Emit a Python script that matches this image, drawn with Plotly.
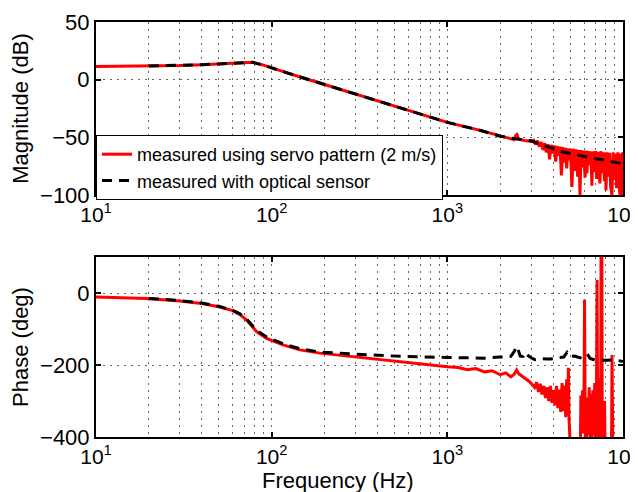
import plotly.graph_objects as go

# ---------------- data ----------------
series_names = ["measured using servo pattern (2 m/s)", "measured with optical sensor"]

mag_servo_freq = [10, 20, 30, 40, 50, 60, 70, 78, 88, 100, 120, 150, 196, 300, 400, 500, 700,
                  1000, 1500, 2000, 2400, 2460, 2490, 2540, 2700, 3000,
                  3100, 3180, 3260, 3340, 3420, 3500, 3580, 3660, 3740, 3820, 3900, 3980,
                  4060, 4140, 4220, 4300, 4380, 4460, 4540, 4620, 4700, 4780, 4860, 4940,
                  5020, 5120, 5220, 5320, 5420, 5520, 5620, 5690, 5770, 5870, 5970, 6080,
                  6180, 6230, 6330, 6450, 6560, 6650, 6750, 6860, 6970, 7080, 7190, 7300,
                  7390, 7480, 7600, 7720, 7840, 7950, 8000, 8120, 8250, 8380, 8500, 8650,
                  8780, 8900, 9050, 9200, 9350, 9500, 9600, 9720, 9850, 9950, 10000]
mag_servo_db = [11.5, 11.8, 12.3, 13, 13.6, 14.2, 14.7, 15, 13, 10, 6.3, 1.7, -3.8, -12.4, -18.3, -22.9, -29.7,
                -37, -43.5, -49, -52, -48, -47.5, -51.5, -52.5, -53.5,
                -52.5, -56, -53, -58, -54, -61, -55, -63, -56, -69, -56.5, -64,
                -57, -71, -57.5, -66, -58, -83, -58.5, -72, -59, -77, -59.5, -70,
                -60, -93, -60, -79, -60.5, -84, -61, -100, -61, -76, -61.5, -85,
                -61.5, -81, -62, -74, -62, -92, -62, -80, -62, -86, -62.5, -77,
                -90, -62, -81, -63, -88, -63, -96, -63, -84, -63.5, -92, -100,
                -63, -87, -64, -94, -63, -89, -100, -64, -97, -63, -100]

mag_optical_freq = [20, 30, 40, 50, 60, 70, 78, 88, 100, 120, 150, 196, 300, 400, 500, 700,
                    1000, 1500, 2000, 2500, 3000, 3500, 4000, 4500, 5000, 6000, 7000, 8000, 9000, 10000]
mag_optical_db = [11.8, 12.3, 13, 13.6, 14.2, 14.7, 15, 13, 10, 6.3, 1.7, -3.8, -12.4, -18.3, -22.9, -29.7,
                  -37, -43.5, -49, -51.5, -53, -57, -59.5, -62.5, -64, -66.5, -68.5, -70, -71.5, -73]

phase_servo_freq = [10, 15, 19.4, 30, 40, 50, 60, 66, 72, 82, 93.5, 116, 145, 188, 300, 545, 700,
                    1000, 1150, 1300, 1450, 1630, 1800, 2000, 2150, 2300, 2400, 2480, 2550, 2700, 2950, 3140,
                    3220, 3300, 3380, 3460, 3540, 3620, 3700, 3780, 3860, 3940, 4020, 4100,
                    4180, 4260, 4340, 4420, 4500, 4580, 4660, 4720, 4780, 4840, 4890, 4930,
                    4970, 5050, 5500, 5720, 5760, 5820, 5880, 5950, 6000, 6040, 6100, 6200,
                    6260, 6340, 6420, 6500, 6580, 6660, 6740, 6820, 6900, 6980, 7060, 7120,
                    7180, 7260, 7340, 7420, 7460, 7500, 7540, 7580, 7620, 7700, 7780, 7850,
                    7920, 8550, 8620, 8660, 8700, 8760, 10000]
phase_servo_deg = [-11, -13, -15, -22, -29, -38, -49, -60, -75, -107, -126, -144, -158, -167, -178, -191, -196,
                   -205, -207, -213, -210, -219, -216, -227, -222, -233, -226, -214, -224, -234, -247, -262,
                   -248, -275, -252, -282, -258, -292, -262, -300, -258, -305, -270, -312,
                   -258, -320, -268, -330, -250, -328, -258, -345, -240, -340, -208, -350,
                   -410, -460, -460, -420, -285, -380, -270, -390, -300, -19, -400, -410,
                   -290, -395, -262, -400, -280, -410, -270, -395, -250, -405, -300, 36,
                   -405, -260, -410, -236, -410, 120, -300, 120, -410, -330, -420, -300,
                   -460, -460, -380, -172, -400, -460, -460]

phase_optical_freq = [20, 30, 40, 50, 60, 66, 72, 82, 93.5, 116, 145, 188, 300, 545, 1000, 1300, 1630,
                      2000, 2300, 2420, 2470, 2530, 2600, 2700, 2770, 2850, 3000, 3150, 3400, 3700,
                      3900, 4200, 4600, 4800, 4950, 5300, 5700, 6000, 6250, 6500, 7000, 8000, 9000, 10000]
phase_optical_deg = [-15, -21, -28, -37, -48, -58, -72, -103, -122, -141, -155, -164, -170, -176, -179, -180, -181,
                     -178, -176, -160, -148, -158, -175, -176, -165, -172, -180, -185, -182, -183,
                     -183, -180, -178, -165, -176, -175, -180, -172, -169, -182, -187, -187, -186, -190]

x_tick_vals = [10, 100, 1000, 10000]
x_tick_text = ["10<sup>1</sup>", "10<sup>2</sup>", "10<sup>3</sup>", "10<sup>4</sup>"]
x_minor_vals = [d * 10 ** k for k in (1, 2, 3) for d in (2, 3, 4, 5, 6, 7, 8, 9)]
mag_tick_vals = [-100, -50, 0, 50]
phase_tick_vals = [-400, -200, 0]

# ---------------- figure ----------------
RED = "#ff0000"
FONT = "Liberation Sans, Arial, Helvetica, sans-serif"
GRIDC = "rgba(0,0,0,0.6)"

fig = go.Figure()
fig.add_trace(go.Scatter(x=mag_servo_freq, y=mag_servo_db, mode="lines", name=series_names[0],
                         line=dict(color=RED, width=3), xaxis="x", yaxis="y"))
fig.add_trace(go.Scatter(x=mag_optical_freq, y=mag_optical_db, mode="lines", name=series_names[1],
                         line=dict(color="black", width=3, dash="10px,7px"), xaxis="x", yaxis="y"))
fig.add_trace(go.Scatter(x=phase_servo_freq, y=phase_servo_deg, mode="lines", name=series_names[0],
                         line=dict(color=RED, width=3), xaxis="x2", yaxis="y2", showlegend=False))
fig.add_trace(go.Scatter(x=phase_optical_freq, y=phase_optical_deg, mode="lines", name=series_names[1],
                         line=dict(color="black", width=3, dash="10px,7px"), xaxis="x2", yaxis="y2",
                         showlegend=False))

grid = dict(showgrid=True, gridcolor=GRIDC, gridwidth=1, griddash="2px,5px")
frame = dict(showline=True, linecolor="black", linewidth=2, mirror="ticks", ticks="inside",
             ticklen=5, tickwidth=2, tickcolor="black", zeroline=False)

xcommon = dict(type="log", range=[1, 4], tickvals=x_tick_vals, ticktext=x_tick_text,
               tickfont=dict(family=FONT, size=21, color="black"), ticklabeloverflow="allow",
               automargin=False,
               minor=dict(tickvals=x_minor_vals, showgrid=True, gridcolor=GRIDC,
                          gridwidth=1, griddash="2px,5px", ticks=""),
               **grid, **frame)
ytickfont = dict(family=FONT, size=22, color="black")

# The page body has an 8px margin, so the figure is sized 8px smaller and margins shifted.
fig.update_layout(
    width=630, height=484,
    margin=dict(l=88, r=15, t=14, b=55, autoexpand=False),
    paper_bgcolor="white", plot_bgcolor="white",
    font=dict(family=FONT, color="black"),
    xaxis=dict(domain=[0, 1], anchor="y", **xcommon),
    xaxis2=dict(domain=[0, 1], anchor="y2", **xcommon),
    yaxis=dict(domain=[0.5831, 1.0], anchor="x", range=[-100, 50], tickvals=mag_tick_vals,
               tickfont=ytickfont, automargin=False,
               title=dict(text="Magnitude (dB)", font=dict(family=FONT, size=22), standoff=6),
               **grid, **frame),
    yaxis2=dict(domain=[0, 0.4337], anchor="x2", range=[-400, 100], tickvals=phase_tick_vals,
                tickfont=ytickfont, automargin=False,
                title=dict(text="Phase (deg)", font=dict(family=FONT, size=22), standoff=6),
                **grid, **frame),
    legend=dict(x=0, y=0.7277, xanchor="left", yanchor="top", bgcolor="white",
                bordercolor="black", borderwidth=1, font=dict(family=FONT, size=18),
                tracegroupgap=0),
    annotations=[dict(text="Frequency (Hz)", xref="paper", yref="paper", x=0.459, y=-0.106,
                      xanchor="center", yanchor="middle", showarrow=False,
                      font=dict(family=FONT, size=22, color="black"))],
)

fig.write_html("out.html")
